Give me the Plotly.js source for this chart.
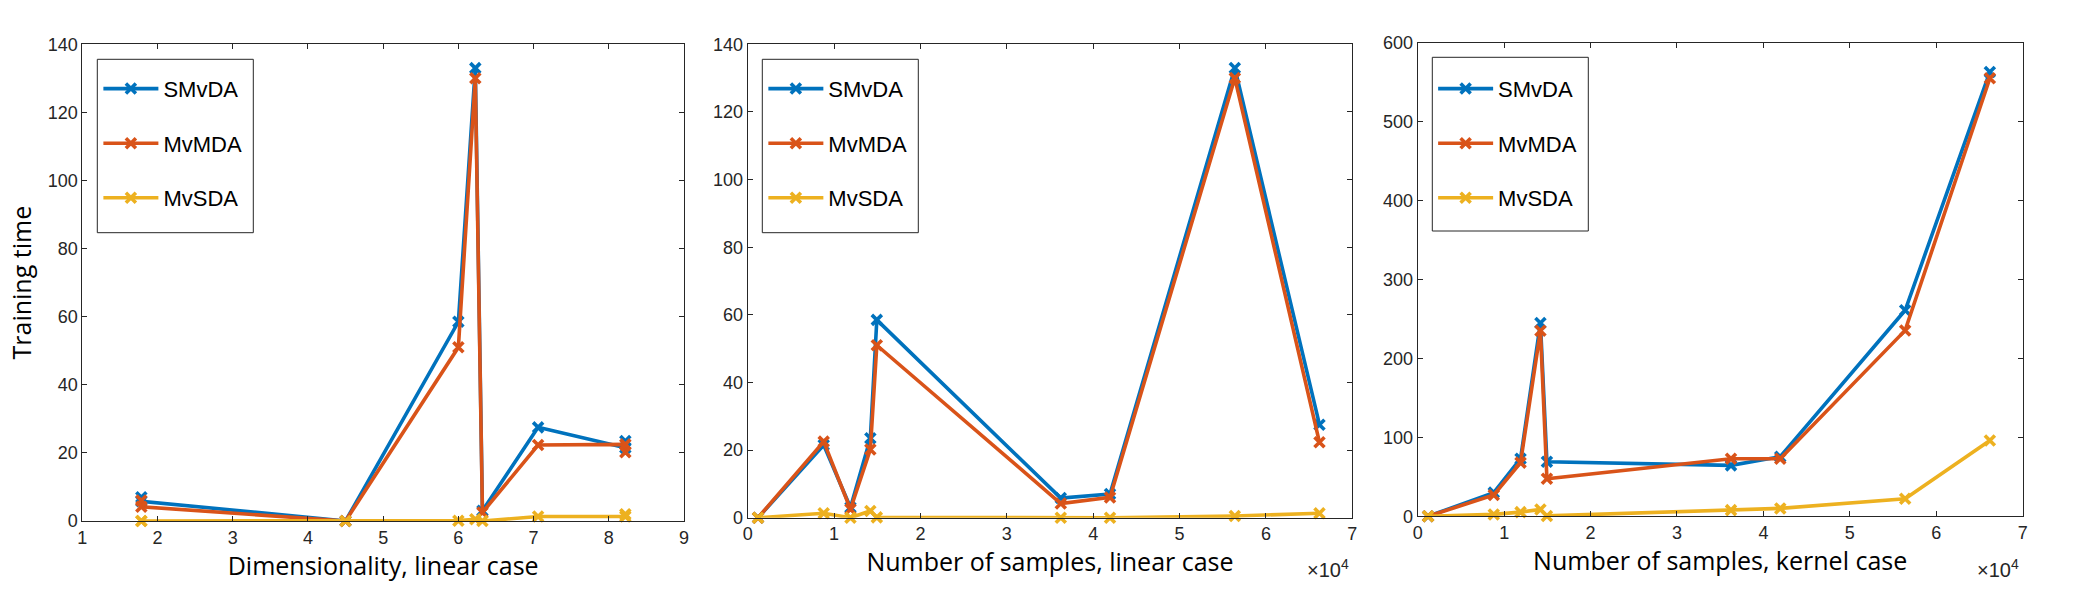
<!DOCTYPE html>
<html>
<head>
<meta charset="utf-8">
<script src="https://cdn.plot.ly/plotly-3.0.1.min.js"></script>
<style>html,body{margin:0;padding:0;background:#fff;}#chart{width:2080px;height:600px;}</style>
</head>
<body>
<div id="chart"></div>
<script>
// ---- Data ----
var seriesNames = ['SMvDA', 'MvMDA', 'MvSDA'];
var seriesColors = ['#0072BD', '#D95319', '#EDB120'];

// Panel 1: dimensionality, linear case (points in plotting order)
var dimLinear = [1.785, 1.785, 4.5, 6.0, 6.225, 6.32, 7.06, 8.22, 8.22];
var smvdaDim  = [7, 5.8, 0, 58.5, 133, 3, 27.5, 21.5, 23.5];
var mvmdaDim  = [6, 4.2, 0, 51, 130, 2.5, 22.3, 22.5, 20.2];
var mvsdaDim  = [0, 0, 0, 0.1, 0.5, 0, 1.3, 1.3, 2];

// Panel 2: number of samples, linear case
var samples   = [1200, 8800, 11900, 14200, 14950, 36250, 41950, 56400, 66200];
var smvdaLin  = [0, 21.5, 3, 23.5, 58.5, 5.8, 7, 133, 27.5];
var mvmdaLin  = [0, 22.5, 2.5, 20.2, 51, 4.2, 6, 130, 22.3];
var mvsdaLin  = [0, 1.3, 0, 2, 0.1, 0, 0, 0.5, 1.3];

// Panel 3: number of samples, kernel case
var smvdaKer  = [0, 30, 73, 245, 69, 64.5, 75.5, 261, 563];
var mvmdaKer  = [0, 27, 68, 235, 47.5, 73, 73, 235.5, 555];
var mvsdaKer  = [0, 2.4, 5.3, 8.7, 0.5, 7.8, 10, 22.3, 96];

// Tick labels
var sampleTickVals = [0, 10000, 20000, 30000, 40000, 50000, 60000, 70000];
var sampleTickText = ['0', '1', '2', '3', '4', '5', '6', '7'];

// ---- Build traces ----
function makeTraces(xs, ysList, suffix, legendName) {
  return ysList.map(function (ys, i) {
    return {
      type: 'scatter', mode: 'lines+markers',
      x: xs, y: ys, name: seriesNames[i],
      xaxis: 'x' + suffix, yaxis: 'y' + suffix,
      legend: legendName, legendgroup: legendName + '_' + i,
      cliponaxis: false,
      line: {color: seriesColors[i], width: 3.6},
      marker: {symbol: 'x-thin', size: 10, color: seriesColors[i], line: {color: seriesColors[i], width: 3.6}},
      hoverinfo: 'x+y+name'
    };
  });
}

var traces = []
  .concat(makeTraces(dimLinear, [smvdaDim, mvmdaDim, mvsdaDim], '', 'legend'))
  .concat(makeTraces(samples, [smvdaLin, mvmdaLin, mvsdaLin], '2', 'legend2'))
  .concat(makeTraces(samples, [smvdaKer, mvmdaKer, mvsdaKer], '3', 'legend3'));

var axisCol = '#262626';
var tickFont = {family: 'Liberation Sans, Arial, sans-serif', size: 18, color: axisCol};
var titleFont = {family: 'Open Sans, sans-serif', size: 25, color: '#000'};
function axisBase(extra) {
  var a = {
    showline: true, mirror: 'ticks', linecolor: axisCol, linewidth: 1,
    ticks: 'inside', ticklen: 5, tickwidth: 1, tickcolor: axisCol,
    showgrid: false, zeroline: false, tickfont: tickFont, fixedrange: true
  };
  for (var k in extra) a[k] = extra[k];
  return a;
}

function legendBox(x) {
  return {
    x: x, y: 0.887, xanchor: 'left', yanchor: 'top',
    bgcolor: 'rgba(0,0,0,0)', borderwidth: 0,
    font: {family: 'Liberation Sans, Arial, sans-serif', size: 22, color: '#000'},
    itemwidth: 55, tracegroupgap: 23, traceorder: 'grouped'
  };
}

function rect(x0, x1, y0, y1) {
  return {type: 'rect', xref: 'paper', yref: 'paper', x0: x0, x1: x1, y0: y0, y1: y1,
          line: {color: axisCol, width: 1}, fillcolor: 'rgba(0,0,0,0)'};
}

var layout = {
  width: 2080, height: 600,
  margin: {l: 0, r: 0, t: 0, b: 0},
  paper_bgcolor: '#fff', plot_bgcolor: '#fff',
  showlegend: true,
  xaxis: axisBase({domain: [0.03957, 0.32885], range: [1, 9], dtick: 1, anchor: 'y',
    title: {text: 'Dimensionality, linear case', font: titleFont, standoff: 10}}),
  yaxis: axisBase({domain: [0.13167, 0.92617], range: [0, 140], dtick: 20, anchor: 'x',
    title: {text: 'Training time', font: titleFont, standoff: 8}}),
  xaxis2: axisBase({domain: [0.35947, 0.65014], range: [0, 70000], tickvals: sampleTickVals, ticktext: sampleTickText, anchor: 'y2',
    title: {text: 'Number of samples, linear case', font: titleFont, standoff: 10}}),
  yaxis2: axisBase({domain: [0.13717, 0.92617], range: [0, 140], dtick: 20, anchor: 'x2'}),
  xaxis3: axisBase({domain: [0.68159, 0.97245], range: [0, 70000], tickvals: sampleTickVals, ticktext: sampleTickText, anchor: 'y3',
    title: {text: 'Number of samples, kernel case', font: titleFont, standoff: 10}}),
  yaxis3: axisBase({domain: [0.1395, 0.92883], range: [0, 600], dtick: 100, anchor: 'x3'}),
  legend: legendBox(0.0473),
  legend2: legendBox(0.3670),
  legend3: legendBox(0.6890),
  shapes: [
    rect(0.04678, 0.12178, 0.61217, 0.90117),
    rect(0.36649, 0.44149, 0.61217, 0.90117),
    rect(0.68861, 0.76361, 0.615, 0.9045)
  ],
  annotations: [
    {xref: 'paper', yref: 'paper', x: 0.6497, y: 0.0533, xanchor: 'right', yanchor: 'middle', showarrow: false,
     text: '×10<sup>4</sup>', font: {family: 'Liberation Sans, Arial, sans-serif', size: 20, color: axisCol}},
    {xref: 'paper', yref: 'paper', x: 0.9718, y: 0.0533, xanchor: 'right', yanchor: 'middle', showarrow: false,
     text: '×10<sup>4</sup>', font: {family: 'Liberation Sans, Arial, sans-serif', size: 20, color: axisCol}}
  ]
};

Plotly.newPlot('chart', traces, layout, {displayModeBar: false});
</script>
</body>
</html>
